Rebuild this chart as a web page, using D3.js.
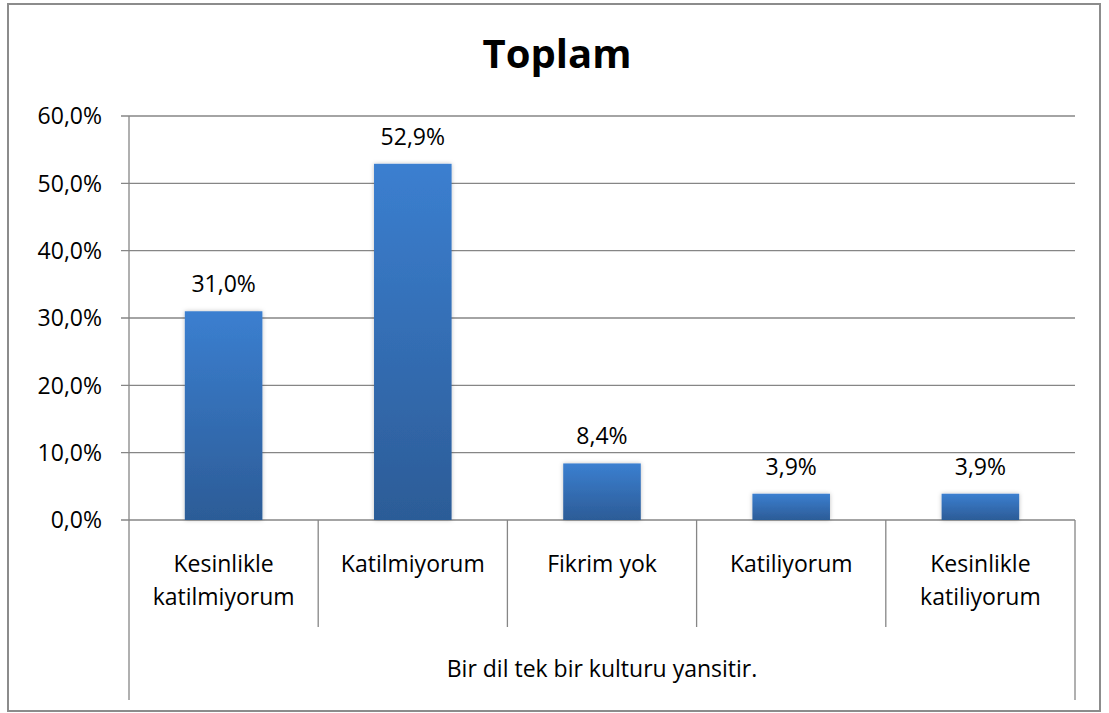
<!DOCTYPE html>
<html>
<head>
<meta charset="utf-8">
<script src="https://cdn.jsdelivr.net/npm/d3@7"></script>
<style>
  body { margin: 0; background: #fff; }
  text { font-family: "Open Sans", "Noto Sans", sans-serif; fill: #000; }
</style>
</head>
<body>
<div id="chart"></div>
<script>
// data
const categories = [
    ["Kesinlikle", "katilmiyorum"],
    ["Katilmiyorum"],
    ["Fikrim yok"],
    ["Katiliyorum"],
    ["Kesinlikle", "katiliyorum"]
];
const values = [31.0, 52.9, 8.4, 3.9, 3.9];
const yTicks = [0, 10, 20, 30, 40, 50, 60];
const groupLabel = "Bir dil tek bir kulturu yansitir.";
const title = "Toplam";

function init() {
    const width = 1109;
    const height = 713;
    const plot = { left: 129, right: 1075, top: 116, bottom: 520 };
    const fontSize = "23px";

    const svg = d3.select("#chart")
                  .append("svg")
                  .attr("width", width)
                  .attr("height", height);

    // outer frame
    svg.append("rect")
       .attr("x", 8).attr("y", 4)
       .attr("width", 1092).attr("height", 707)
       .attr("fill", "#fff")
       .attr("stroke", "#8c8c8c")
       .attr("stroke-width", 2);

    const defs = svg.append("defs");
    const grad = defs.append("linearGradient")
                     .attr("id", "barGrad")
                     .attr("x1", 0).attr("y1", 0).attr("x2", 0).attr("y2", 1);
    grad.append("stop").attr("offset", "0%").attr("stop-color", "#3b7fd0");
    grad.append("stop").attr("offset", "100%").attr("stop-color", "#2c5c97");

    const shadow = defs.append("filter").attr("id", "shadow")
                       .attr("x", "-20%").attr("y", "-20%").attr("width", "140%").attr("height", "140%");
    shadow.append("feDropShadow")
          .attr("dx", 0).attr("dy", 0).attr("stdDeviation", 2)
          .attr("flood-color", "#000").attr("flood-opacity", 0.25);

    const x = d3.scaleBand()
                .domain(d3.range(categories.length))
                .range([plot.left, plot.right])
                .paddingInner(0.59)
                .paddingOuter(0.295);

    const y = d3.scaleLinear()
                .domain([0, 60])
                .range([plot.bottom, plot.top]);

    const pct = d => d3.format(".1f")(d).replace(".", ",") + "%";

    // gridlines + ticks
    svg.append("g")
       .selectAll("line")
       .data(yTicks)
       .join("line")
       .attr("x1", plot.left - 8)
       .attr("x2", plot.right)
       .attr("y1", d => y(d))
       .attr("y2", d => y(d))
       .attr("stroke", "#868686")
       .attr("stroke-width", 1.3);

    svg.append("g")
       .selectAll("text")
       .data(yTicks)
       .join("text")
       .attr("x", plot.left - 27)
       .attr("y", d => y(d))
       .attr("dy", "0.36em")
       .attr("text-anchor", "end")
       .style("font-size", fontSize)
       .text(pct);

    // bars
    svg.append("g")
       .selectAll("rect")
       .data(values)
       .join("rect")
       .attr("x", (d, i) => x(i))
       .attr("y", d => y(d))
       .attr("width", x.bandwidth())
       .attr("height", d => y(0) - y(d))
       .attr("fill", "url(#barGrad)")
       .attr("filter", "url(#shadow)");

    // value labels
    svg.append("g")
       .selectAll("text")
       .data(values)
       .join("text")
       .attr("x", (d, i) => x(i) + x.bandwidth() / 2)
       .attr("y", d => y(d) - 19)
       .attr("text-anchor", "middle")
       .style("font-size", fontSize)
       .text(pct);

    // y axis line
    svg.append("line")
       .attr("x1", plot.left).attr("x2", plot.left)
       .attr("y1", plot.top).attr("y2", 700)
       .attr("stroke", "#868686").attr("stroke-width", 1.3);

    // category separators
    const step = (plot.right - plot.left) / categories.length;
    svg.append("g")
       .selectAll("line")
       .data(d3.range(1, categories.length))
       .join("line")
       .attr("x1", i => plot.left + i * step)
       .attr("x2", i => plot.left + i * step)
       .attr("y1", plot.bottom)
       .attr("y2", 627)
       .attr("stroke", "#868686").attr("stroke-width", 1.3);

    svg.append("line")
       .attr("x1", plot.right).attr("x2", plot.right)
       .attr("y1", plot.bottom).attr("y2", 700)
       .attr("stroke", "#868686").attr("stroke-width", 1.3);

    // category labels
    const catLabels = svg.append("g")
       .selectAll("text")
       .data(categories)
       .join("text")
       .attr("text-anchor", "middle")
       .style("font-size", fontSize)
       .attr("transform", (d, i) => `translate(${x(i) + x.bandwidth() / 2},572)`);

    catLabels.selectAll("tspan")
       .data(d => d)
       .join("tspan")
       .attr("x", 0)
       .attr("y", (d, i) => i * 33)
       .text(d => d);

    svg.append("text")
       .attr("x", (plot.left + plot.right) / 2)
       .attr("y", 677)
       .attr("text-anchor", "middle")
       .style("font-size", fontSize)
       .text(groupLabel);

    svg.append("text")
       .attr("x", 557)
       .attr("y", 68)
       .attr("text-anchor", "middle")
       .style("font-size", "40px")
       .style("font-weight", "bold")
       .text(title);
}

window.onload = init;
</script>
</body>
</html>
